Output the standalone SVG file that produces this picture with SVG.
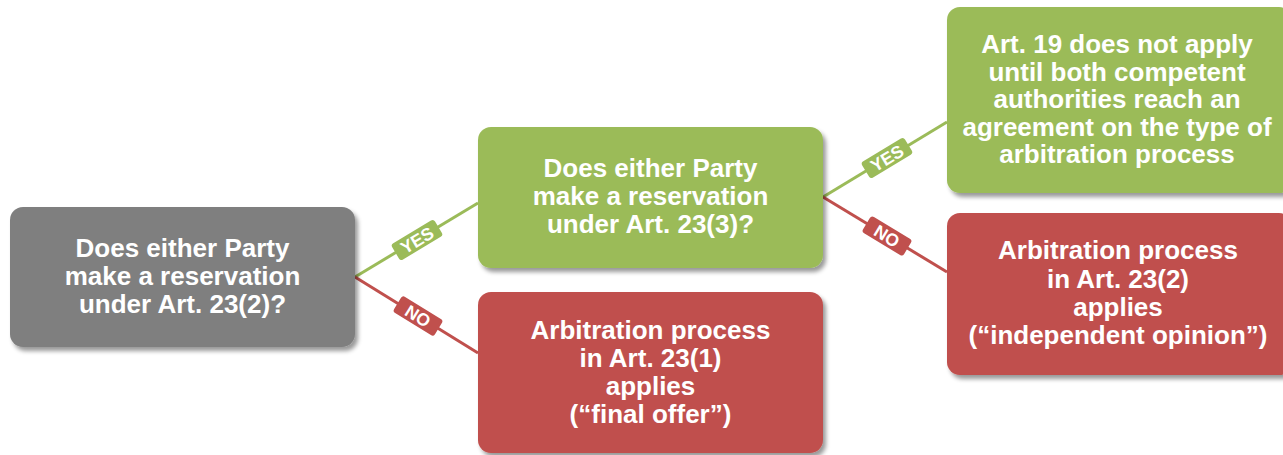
<svg xmlns="http://www.w3.org/2000/svg" width="1283" height="455" viewBox="0 0 1283 455">
  <defs>
    <filter id="shadow" x="-10%" y="-10%" width="125%" height="130%">
      <feDropShadow dx="3" dy="4" stdDeviation="2.2" flood-color="#000" flood-opacity="0.4"/>
    </filter>
    <style>
      .box { filter: url(#shadow); }
      .gray { fill: #7f7f7f; }
      .green { fill: #9bbb59; }
      .red { fill: #c0504d; }
      .txt { font-family: "Liberation Sans", Arial, sans-serif; font-weight: bold; font-size: 26px; fill: #ffffff; text-anchor: middle; }
      .lbl { font-family: "Liberation Sans", Arial, sans-serif; font-weight: bold; font-size: 17.5px; fill: #ffffff; text-anchor: middle; }
      .yes { stroke: #9bbb59; stroke-width: 3; fill: none; }
      .no { stroke: #c0504d; stroke-width: 3; fill: none; }
    </style>
  </defs>
  <rect width="1283" height="455" fill="#ffffff"/>

  <!-- connectors with their YES / NO tags -->
  <g id="connectors">
    <line class="yes" x1="355" y1="277" x2="478" y2="203"/>
    <line class="no" x1="355" y1="277" x2="478" y2="353"/>
    <line class="yes" x1="823" y1="197" x2="947" y2="122"/>
    <line class="no" x1="823" y1="197" x2="947" y2="272"/>

    <g transform="translate(417,240) rotate(-31)">
      <rect class="green" x="-25" y="-9.5" width="50" height="19" rx="3"/>
      <text class="lbl" x="0" y="6.3">YES</text>
    </g>
    <g transform="translate(418,316) rotate(31.7)">
      <rect class="red" x="-24" y="-9.5" width="48" height="19" rx="3"/>
      <text class="lbl" x="0" y="6.3">NO</text>
    </g>
    <g transform="translate(887,158) rotate(-31.2)">
      <rect class="green" x="-25" y="-9.5" width="50" height="19" rx="3"/>
      <text class="lbl" x="0" y="6.3">YES</text>
    </g>
    <g transform="translate(887,236) rotate(31.2)">
      <rect class="red" x="-24" y="-9.5" width="48" height="19" rx="3"/>
      <text class="lbl" x="0" y="6.3">NO</text>
    </g>
  </g>

  <g id="q1">
    <rect class="box gray" x="10" y="207" width="345" height="140" rx="13"/>
    <text class="txt" x="182.5" y="257">Does either Party</text>
    <text class="txt" x="182.5" y="285">make a reservation</text>
    <text class="txt" x="182.5" y="313">under Art. 23(2)?</text>
  </g>

  <g id="q2">
    <rect class="box green" x="478" y="127" width="345" height="141" rx="13"/>
    <text class="txt" x="650.5" y="177">Does either Party</text>
    <text class="txt" x="650.5" y="205">make a reservation</text>
    <text class="txt" x="650.5" y="233">under Art. 23(3)?</text>
  </g>

  <g id="final-offer">
    <rect class="box red" x="478" y="292" width="345" height="161" rx="13"/>
    <text class="txt" x="650.5" y="339">Arbitration process</text>
    <text class="txt" x="650.5" y="367">in Art. 23(1)</text>
    <text class="txt" x="650.5" y="395">applies</text>
    <text class="txt" x="650.5" y="423">(“final offer”)</text>
  </g>

  <g id="no-apply">
    <rect class="box green" x="947" y="7" width="345" height="186" rx="13"/>
    <text class="txt" x="1117" y="53">Art. 19 does not apply</text>
    <text class="txt" x="1117" y="80.5">until both competent</text>
    <text class="txt" x="1117" y="108">authorities reach an</text>
    <text class="txt" x="1117" y="135.5">agreement on the type of</text>
    <text class="txt" x="1117" y="163">arbitration process</text>
  </g>

  <g id="independent-opinion">
    <rect class="box red" x="947" y="213" width="345" height="162" rx="13"/>
    <text class="txt" x="1118" y="259">Arbitration process</text>
    <text class="txt" x="1118" y="288">in Art. 23(2)</text>
    <text class="txt" x="1118" y="316">applies</text>
    <text class="txt" x="1118" y="344">(“independent opinion”)</text>
  </g>
</svg>
